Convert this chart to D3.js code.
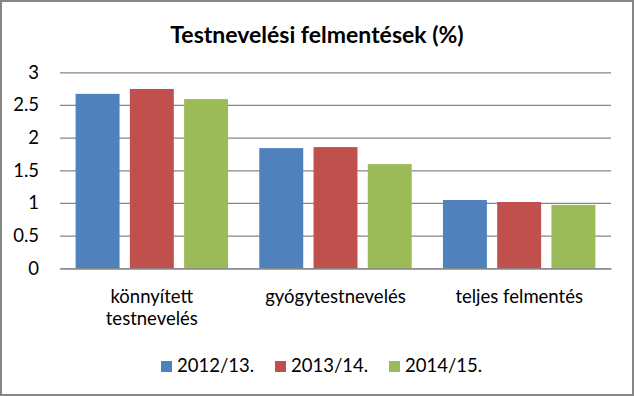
<!DOCTYPE html>
<html><head><meta charset="utf-8">
<script src="https://cdn.jsdelivr.net/npm/d3@7"></script>
<style>body{margin:0;background:#fff}</style>
</head><body>
<svg id="c" width="634" height="396"></svg>
<script>
const categories = [["könnyített","testnevelés"],["gyógytestnevelés"],["teljes felmentés"]];
const seriesNames = ["2012/13.","2013/14.","2014/15."];
const v2012 = [2.67, 1.84, 1.045];
const v2013 = [2.745, 1.855, 1.015];
const v2014 = [2.59, 1.595, 0.97];
const yTicks = [0, 0.5, 1, 1.5, 2, 2.5, 3];
const colors = ["#4F81BD","#C0504D","#9BBB59"];
const series = [v2012, v2013, v2014];
const title = "Testnevelési felmentések (%)";
const font = "Lato, 'Open Sans', sans-serif";

const svg = d3.select("#c");
svg.append("rect").attr("x",1).attr("y",1).attr("width",632).attr("height",394)
  .attr("fill","#fff").attr("stroke","#868686").attr("stroke-width",2);

const pL=60, pR=611, pT=72.3, pB=268.3;
const y = d3.scaleLinear().domain([0,3]).range([pB, pT]);
const x0 = d3.scaleBand().domain(d3.range(categories.length)).range([pL,pR]).paddingInner(0.17).paddingOuter(0.085);
const x1 = d3.scaleBand().domain(d3.range(series.length)).range([0,x0.bandwidth()]).paddingInner(0.19);

svg.append("text").attr("x",317).attr("y",43).attr("text-anchor","middle")
  .attr("font-family",font).attr("font-weight","bold").attr("font-size",23).text(title);

const gy = svg.append("g").attr("transform",`translate(${pL},0)`)
  .call(d3.axisLeft(y).tickValues(yTicks).tickSize(-(pR-pL)).tickPadding(21).tickFormat(d3.format("")));
gy.select(".domain").remove();
gy.selectAll(".tick line").attr("stroke","#868686").attr("stroke-width",1.3);
gy.selectAll(".tick text").attr("font-family",font).attr("font-size",18.5).attr("fill","#000");

series.forEach((s,si)=>{
  svg.append("g").selectAll("rect").data(s).join("rect")
    .attr("x",(d,i)=>x0(i)+x1(si)).attr("width",x1.bandwidth())
    .attr("y",d=>y(d)).attr("height",d=>y(0)-y(d)).attr("fill",colors[si]);
});

const gx = svg.append("g").attr("transform",`translate(0,${pB})`)
  .call(d3.axisBottom(x0).tickSize(0).tickFormat(""));
gx.select(".domain").attr("stroke","#868686").attr("stroke-width",1.3);
categories.forEach((lines,i)=>{
  const t = svg.append("text").attr("text-anchor","middle").attr("font-family",font).attr("font-size",18.5)
    .attr("x", x0(i)+x0.bandwidth()/2).attr("y",303);
  lines.forEach((l,j)=>t.append("tspan").attr("x",x0(i)+x0.bandwidth()/2).attr("dy",j?22:0).text(l));
});

const legX = [161, 275, 389];
seriesNames.forEach((n,i)=>{
  svg.append("rect").attr("x",legX[i]).attr("y",361).attr("width",11).attr("height",11).attr("fill",colors[i]);
  svg.append("text").attr("x",legX[i]+16).attr("y",372).attr("font-family",font).attr("font-size",18.5).text(n);
});
</script>
</body></html>
